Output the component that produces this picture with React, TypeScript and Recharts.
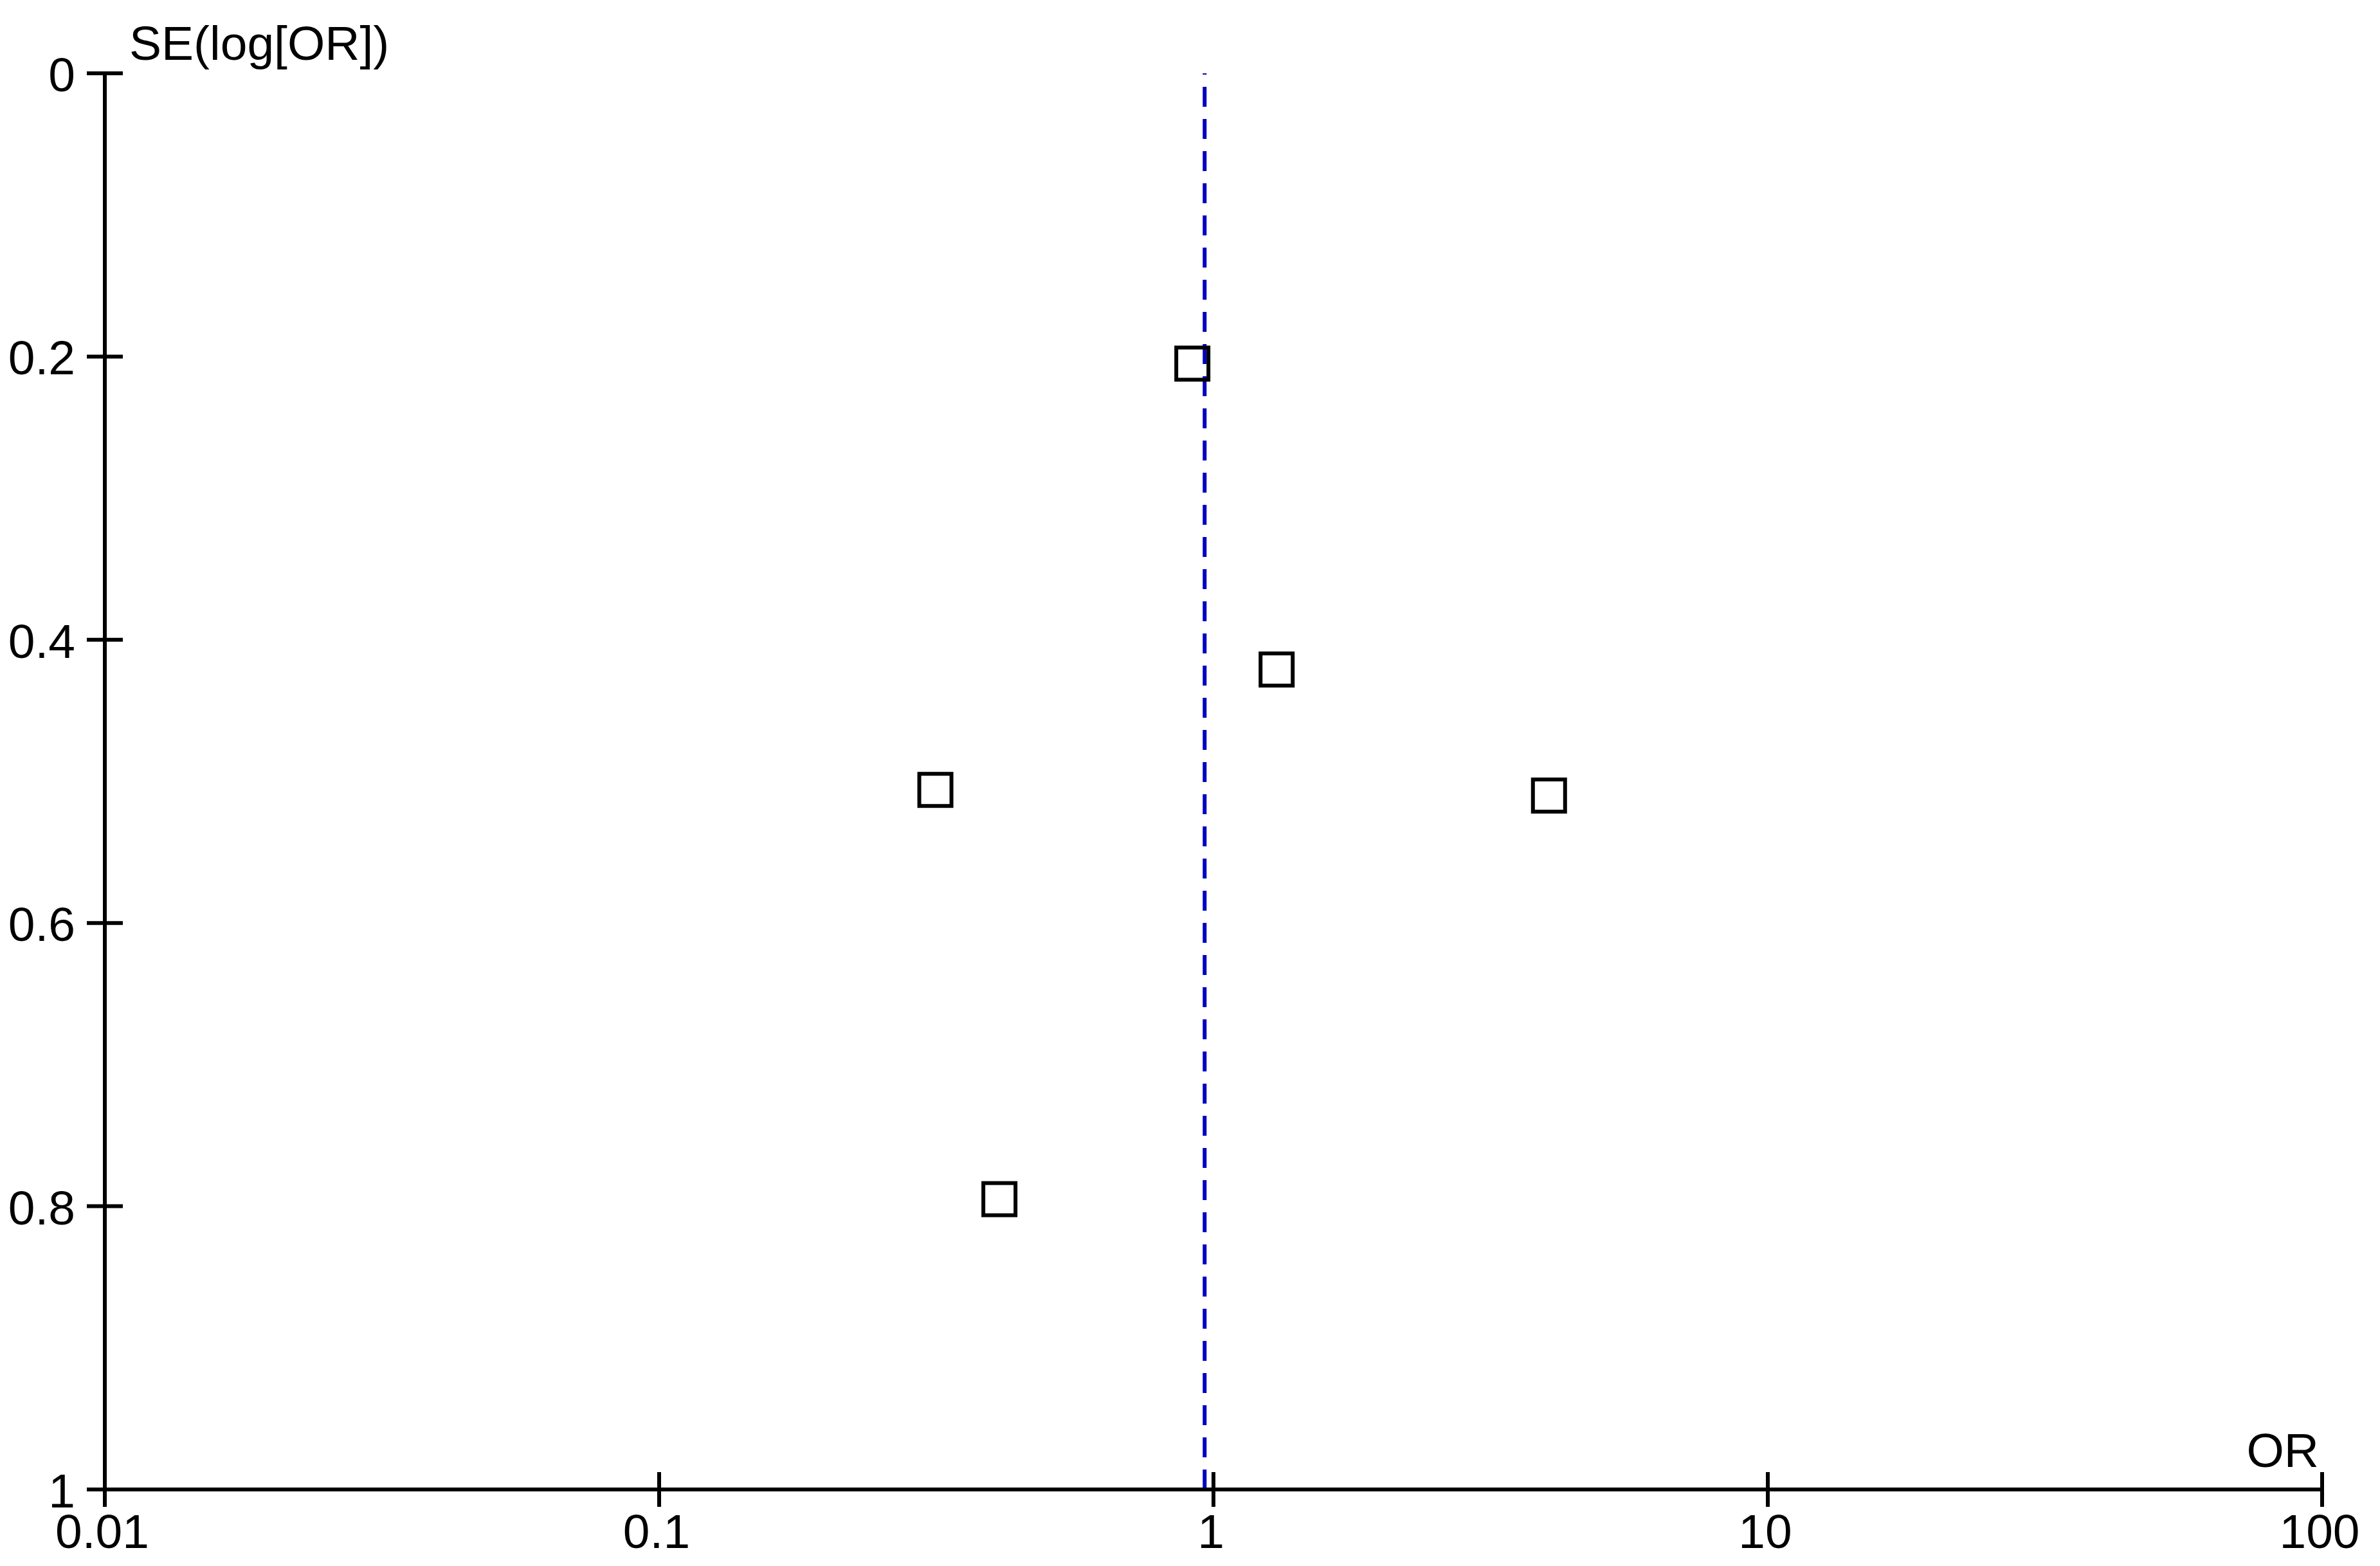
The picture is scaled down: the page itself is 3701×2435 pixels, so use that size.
import { ReferenceLine, Scatter, ScatterChart, XAxis, YAxis } from "recharts";

// study odds ratios and their standard errors (funnel plot)
const studyOR = [0.916, 1.3, 0.315, 4.03, 0.411];
const studySE = [0.205, 0.421, 0.506, 0.51, 0.795];
const pooledOR = 0.964;

const orTicks = [0.01, 0.1, 1, 10, 100];
const orTickLabels = ["0.01", "0.1", "1", "10", "100"];
const seTicks = [0, 0.2, 0.4, 0.6, 0.8, 1];
const seTickLabels = ["0", "0.2", "0.4", "0.6", "0.8", "1"];

const points = studyOR.map((or, i) => ({ or, se: studySE[i] }));

const FONT = "'Liberation Sans', Arial, sans-serif";
const FONT_SIZE = 75;

function OrTick(props: any) {
  const { x, y, payload } = props;
  const label = orTickLabels[orTicks.indexOf(payload.value)];
  return (
    <g>
      <line x1={x} x2={x} y1={y - 27} y2={y + 27} stroke="#000" strokeWidth={6} />
      <text x={x - 4} y={y + 91} textAnchor="middle" fontSize={FONT_SIZE} fontFamily={FONT} fill="#000">
        {label}
      </text>
    </g>
  );
}

function SeTick(props: any) {
  const { x, y, payload } = props;
  const label = seTickLabels[seTicks.indexOf(payload.value)];
  return (
    <g>
      <line x1={x - 28} x2={x + 28} y1={y} y2={y} stroke="#000" strokeWidth={6} />
      <text x={x - 46} y={y + 28} textAnchor="end" fontSize={FONT_SIZE} fontFamily={FONT} fill="#000">
        {label}
      </text>
    </g>
  );
}

function OpenSquare(props: any) {
  const { cx, cy } = props;
  return <rect x={cx - 25} y={cy - 25} width={50} height={50} fill="none" stroke="#000" strokeWidth={6} />;
}

export default function App() {
  return (
    <div style={{ position: "absolute", left: 0, top: 0, background: "#fff" }}>
      <ScatterChart width={3701} height={2435} margin={{ top: 114, right: 90, bottom: 0, left: 0 }}>
        <XAxis
          dataKey="or"
          type="number"
          scale="log"
          domain={[0.01, 100]}
          ticks={orTicks}
          interval={0}
          allowDataOverflow
          height={119}
          tickSize={0}
          tickMargin={0}
          tickLine={false}
          axisLine={{ stroke: "#000", strokeWidth: 6 }}
          tick={<OrTick />}
          label={{
            content: (p: any) => {
              const vb = p.viewBox;
              return (
                <text
                  x={vb.x + vb.width - 5}
                  y={vb.y - 35}
                  textAnchor="end"
                  fontSize={FONT_SIZE}
                  fontFamily={FONT}
                  fill="#000"
                >
                  OR
                </text>
              );
            }
          }}
        />
        <YAxis
          dataKey="se"
          type="number"
          domain={[0, 1]}
          reversed
          ticks={seTicks}
          interval={0}
          width={163}
          tickSize={0}
          tickMargin={0}
          tickLine={false}
          axisLine={{ stroke: "#000", strokeWidth: 6 }}
          tick={<SeTick />}
          label={{
            content: (p: any) => {
              const vb = p.viewBox;
              return (
                <text x={vb.x + vb.width + 38} y={vb.y - 21} fontSize={FONT_SIZE} fontFamily={FONT} fill="#000">
                  SE(log[OR])
                </text>
              );
            }
          }}
        />
        <Scatter data={points} shape={<OpenSquare />} isAnimationActive={false} />
        <ReferenceLine
          x={pooledOR}
          stroke="#0000c0"
          strokeWidth={6}
          strokeDasharray="31 19"
        />
      </ScatterChart>
    </div>
  );
}
